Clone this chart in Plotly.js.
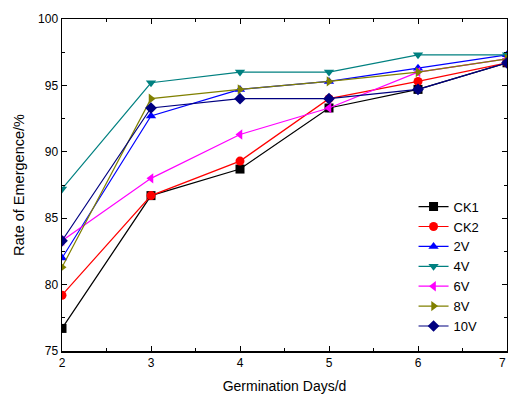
<!DOCTYPE html>
<html><head><meta charset="utf-8">
<script src="https://cdn.plot.ly/plotly-3.0.1.min.js"></script>
<style>html,body{margin:0;padding:0;background:#fff;}#chart{width:508px;height:396px;}</style>
</head><body><div id="chart"></div>
<script>
const days = [2, 3, 4, 5, 6, 7];
const seriesNames = ["CK1", "CK2", "2V", "4V", "6V", "8V", "10V"];
const CK1 = [76.7, 86.7, 88.7, 93.3, 94.7, 96.7];
const CK2 = [79.2, 86.7, 89.3, 94.0, 95.3, 96.7];
const V2  = [82.0, 92.7, 94.7, 95.3, 96.3, 97.3];
const V4  = [87.2, 95.2, 96.0, 96.0, 97.3, 97.3];
const V6  = [83.3, 88.0, 91.3, 93.3, 96.0, 97.0];
const V8  = [81.3, 94.0, 94.7, 95.3, 96.0, 97.0];
const V10 = [83.3, 93.3, 94.0, 94.0, 94.7, 96.7];
const seriesValues = [CK1, CK2, V2, V4, V6, V8, V10];
const colors = ["#000000", "#ff0000", "#0000ff", "#008080", "#ff00ff", "#808000", "#000080"];
const symbols = ["square", "circle", "triangle-up", "triangle-down", "triangle-left", "triangle-right", "diamond"];
const lastTickLabel = "7";

const traces = seriesNames.map((n, i) => ({
  x: days, y: seriesValues[i], name: n, type: "scatter", mode: "lines+markers",
  line: {color: colors[i], width: 1.2},
  marker: {color: colors[i], symbol: symbols[i], size: 9}
}));

const font = {family: "Liberation Sans, Arial, sans-serif", color: "#000"};
const layout = {
  width: 508, height: 396,
  margin: {l: 62, r: 1, t: 19, b: 45},
  paper_bgcolor: "#fff", plot_bgcolor: "#fff",
  font: Object.assign({size: 12}, font),
  showlegend: true,
  legend: {x: 0.79, y: 0.48, xanchor: "left", yanchor: "top", bgcolor: "rgba(0,0,0,0)",
           font: Object.assign({size: 13}, font), tracegroupgap: 0, itemwidth: 30},
  xaxis: {
    range: [2, 7], dtick: 1, tick0: 2, showgrid: false, zeroline: false,
    showline: true, linecolor: "#000", linewidth: 1.5, mirror: "ticks",
    ticks: "inside", ticklen: 5, tickcolor: "#000",
    minor: {dtick: 0.5, ticks: "inside", ticklen: 3, tickcolor: "#000", showgrid: false},
    tickfont: Object.assign({size: 12}, font),
    title: {text: "Germination Days/d", font: Object.assign({size: 14}, font), standoff: 12}
  },
  yaxis: {
    range: [75, 100], dtick: 5, showgrid: false, zeroline: false,
    showline: true, linecolor: "#000", linewidth: 1.5, mirror: "ticks",
    ticks: "inside", ticklen: 5, tickcolor: "#000",
    minor: {dtick: 2.5, ticks: "inside", ticklen: 3, tickcolor: "#000", showgrid: false},
    tickfont: Object.assign({size: 12}, font),
    title: {text: "Rate of Emergence/%", font: Object.assign({size: 14.5}, font), standoff: 10}
  },
  annotations: [{
    x: days[days.length - 1], xref: "x", xanchor: "right", xshift: 1,
    y: 0, yref: "paper", yanchor: "top", yshift: -3,
    text: lastTickLabel, showarrow: false, font: Object.assign({size: 12}, font)
  }]
};
Plotly.newPlot("chart", traces, layout, {displayModeBar: false, staticPlot: true});
</script>
</body></html>
